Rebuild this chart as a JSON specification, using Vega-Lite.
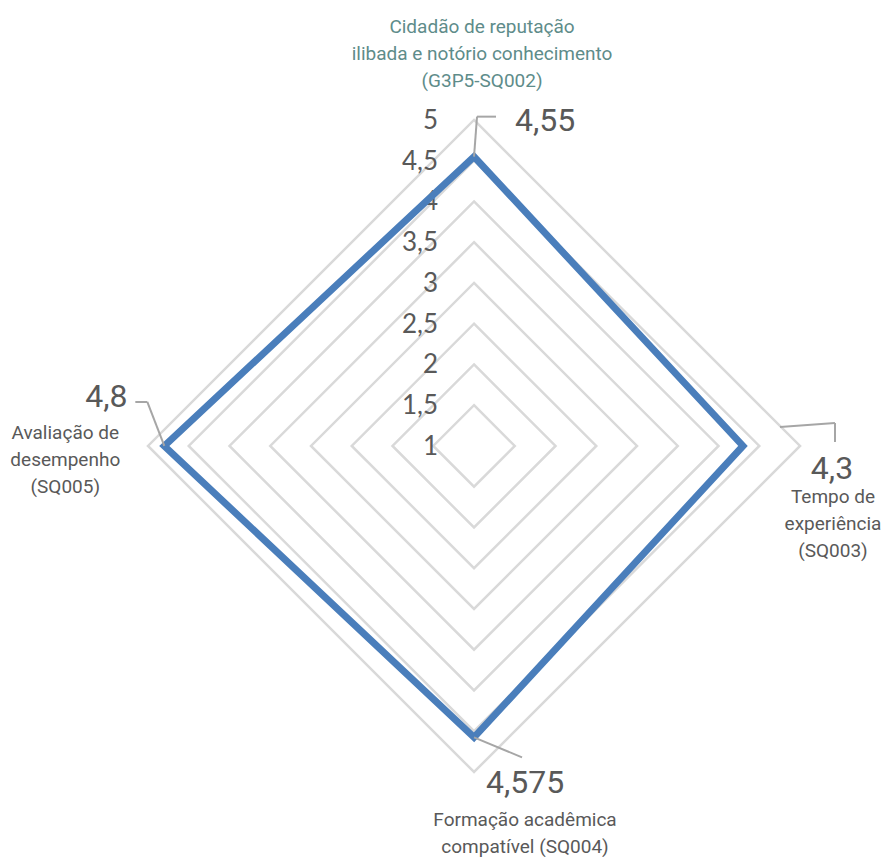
{
  "$schema": "https://vega.github.io/schema/vega-lite/v6.json",
  "width": 883,
  "height": 857,
  "padding": 0,
  "autosize": {"type": "none"},
  "background": "white",
  "config": {
    "view": {"stroke": null},
    "locale": {"number": {"decimal": ",", "thousands": ".", "grouping": [3], "currency": ["", " €"]}}
  },
  "datasets": {
    "scores": [
      {"k": 0, "name": ["Cidadão de reputação", "ilibada e notório conhecimento", "(G3P5-SQ002)"], "value": 4.55},
      {"k": 1, "name": ["Tempo de", "experiência", "(SQ003)"], "value": 4.3},
      {"k": 2, "name": ["Formação acadêmica", "compatível (SQ004)"], "value": 4.575},
      {"k": 3, "name": ["Avaliação de", "desempenho", "(SQ005)"], "value": 4.8}
    ],
    "levels": [
      {"level": 1, "spokes": [0, 1, 2, 3]},
      {"level": 1.5, "spokes": [0, 1, 2, 3]},
      {"level": 2, "spokes": [0, 1, 2, 3]},
      {"level": 2.5, "spokes": [0, 1, 2, 3]},
      {"level": 3, "spokes": [0, 1, 2, 3]},
      {"level": 3.5, "spokes": [0, 1, 2, 3]},
      {"level": 4, "spokes": [0, 1, 2, 3]},
      {"level": 4.5, "spokes": [0, 1, 2, 3]},
      {"level": 5, "spokes": [0, 1, 2, 3]}
    ]
  },
  "encoding": {
    "x": {"field": "px", "type": "quantitative", "axis": null, "scale": {"domain": [-5.816, 5.018], "nice": false, "zero": false}},
    "y": {"field": "py", "type": "quantitative", "axis": null, "scale": {"domain": [-5.043, 5.472], "nice": false, "zero": false}}
  },
  "layer": [
    {
      "data": {"name": "levels"},
      "transform": [
        {"filter": "datum.level > 1"},
        {"flatten": ["spokes"], "as": ["k"]},
        {"calculate": "(datum.level - 1) * sin(datum.k * PI / 2)", "as": "px"},
        {"calculate": "(datum.level - 1) * cos(datum.k * PI / 2)", "as": "py"}
      ],
      "mark": {"type": "line", "interpolate": "linear-closed", "stroke": "#d9d9d9", "strokeWidth": 2.5},
      "encoding": {
        "detail": {"field": "level", "type": "quantitative"},
        "order": {"field": "k", "type": "quantitative"}
      }
    },
    {
      "data": {"name": "levels"},
      "transform": [
        {"calculate": "0", "as": "px"},
        {"calculate": "datum.level - 1", "as": "py"}
      ],
      "mark": {"type": "text", "align": "right", "baseline": "middle", "dx": -36, "dy": 1, "font": "Lato", "fontSize": 26, "fill": "#595959"},
      "encoding": {"text": {"field": "level", "type": "quantitative", "format": ".4~g"}}
    },
    {
      "data": {"name": "scores"},
      "transform": [
        {"calculate": "(datum.value - 1) * sin(datum.k * PI / 2)", "as": "px"},
        {"calculate": "(datum.value - 1) * cos(datum.k * PI / 2)", "as": "py"}
      ],
      "layer": [
        {
          "mark": {"type": "line", "interpolate": "linear-closed", "stroke": "#4a7ebb", "strokeWidth": 7},
          "encoding": {"order": {"field": "k", "type": "quantitative"}}
        },
        {
          "transform": [{"filter": "datum.k == 0"}],
          "layer": [
            {"mark": {"type": "rule", "stroke": "#a6a6a6", "strokeWidth": 2, "xOffset": 0, "yOffset": 0, "x2Offset": 3, "y2Offset": -40},
             "encoding": {"x2": {"field": "px"}, "y2": {"field": "py"}}},
            {"mark": {"type": "rule", "stroke": "#a6a6a6", "strokeWidth": 2, "xOffset": 3, "yOffset": -40, "x2Offset": 22, "y2Offset": -40},
             "encoding": {"x2": {"field": "px"}, "y2": {"field": "py"}}},
            {"mark": {"type": "text", "align": "left", "baseline": "middle", "dx": 41, "dy": -36, "font": "Roboto", "fontSize": 32, "fill": "#595959"},
             "encoding": {"text": {"field": "value", "type": "quantitative", "format": ".4~g"}}},
            {"mark": {"type": "text", "align": "center", "baseline": "middle", "dx": 8, "dy": -130, "font": "Roboto", "fontSize": 19, "lineHeight": 27, "fill": "#5e8c8a"},
             "encoding": {"text": {"field": "name"}}}
          ]
        },
        {
          "transform": [{"filter": "datum.k == 1"}],
          "layer": [
            {"mark": {"type": "rule", "stroke": "#a6a6a6", "strokeWidth": 2, "xOffset": 37, "yOffset": -19, "x2Offset": 92, "y2Offset": -23},
             "encoding": {"x2": {"field": "px"}, "y2": {"field": "py"}}},
            {"mark": {"type": "rule", "stroke": "#a6a6a6", "strokeWidth": 2, "xOffset": 92, "yOffset": -23, "x2Offset": 92, "y2Offset": -4},
             "encoding": {"x2": {"field": "px"}, "y2": {"field": "py"}}},
            {"mark": {"type": "text", "align": "center", "baseline": "middle", "dx": 89, "dy": 23, "font": "Roboto", "fontSize": 32, "fill": "#595959"},
             "encoding": {"text": {"field": "value", "type": "quantitative", "format": ".4~g"}}},
            {"mark": {"type": "text", "align": "center", "baseline": "middle", "dx": 90, "dy": 51, "font": "Roboto", "fontSize": 19, "lineHeight": 27, "fill": "#595959"},
             "encoding": {"text": {"field": "name"}}}
          ]
        },
        {
          "transform": [{"filter": "datum.k == 2"}],
          "layer": [
            {"mark": {"type": "rule", "stroke": "#a6a6a6", "strokeWidth": 2, "xOffset": 0, "yOffset": 0, "x2Offset": 48, "y2Offset": 20},
             "encoding": {"x2": {"field": "px"}, "y2": {"field": "py"}}},
            {"mark": {"type": "text", "align": "center", "baseline": "middle", "dx": 51, "dy": 46, "font": "Roboto", "fontSize": 32, "fill": "#595959"},
             "encoding": {"text": {"field": "value", "type": "quantitative", "format": ".4~g"}}},
            {"mark": {"type": "text", "align": "center", "baseline": "middle", "dx": 51, "dy": 83, "font": "Roboto", "fontSize": 19, "lineHeight": 27, "fill": "#595959"},
             "encoding": {"text": {"field": "name"}}}
          ]
        },
        {
          "transform": [{"filter": "datum.k == 3"}],
          "layer": [
            {"mark": {"type": "rule", "stroke": "#a6a6a6", "strokeWidth": 2, "xOffset": -29, "yOffset": -44, "x2Offset": -17, "y2Offset": -44},
             "encoding": {"x2": {"field": "px"}, "y2": {"field": "py"}}},
            {"mark": {"type": "rule", "stroke": "#a6a6a6", "strokeWidth": 2, "xOffset": -17, "yOffset": -44, "x2Offset": 0, "y2Offset": 0},
             "encoding": {"x2": {"field": "px"}, "y2": {"field": "py"}}},
            {"mark": {"type": "text", "align": "center", "baseline": "middle", "dx": -58, "dy": -49, "font": "Roboto", "fontSize": 32, "fill": "#595959"},
             "encoding": {"text": {"field": "value", "type": "quantitative", "format": ".4~g"}}},
            {"mark": {"type": "text", "align": "center", "baseline": "middle", "dx": -99, "dy": -13, "font": "Roboto", "fontSize": 19, "lineHeight": 27, "fill": "#595959"},
             "encoding": {"text": {"field": "name"}}}
          ]
        }
      ]
    }
  ]
}
